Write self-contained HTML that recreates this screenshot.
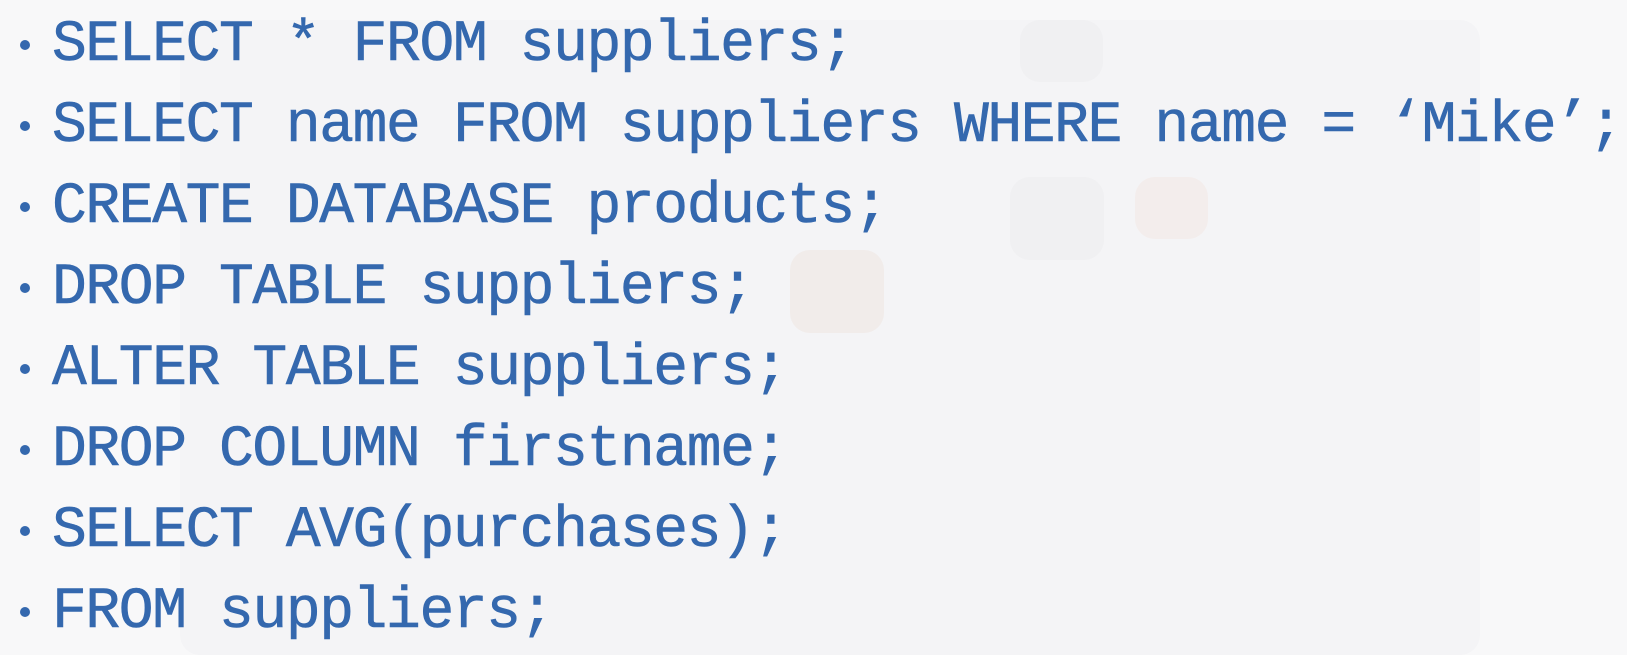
<!DOCTYPE html>
<html><head><meta charset="utf-8"><style>
html,body{margin:0;padding:0;}
body{width:1627px;height:655px;background:#f8f8f9;position:relative;overflow:hidden;}
.l{position:absolute;left:52px;font-family:"Liberation Mono",monospace;font-size:58px;letter-spacing:-1.4px;color:#3468ae;line-height:1;white-space:pre;-webkit-text-stroke:0.6px #3468ae;}
.b{position:absolute;left:20px;width:10px;height:10px;border-radius:50%;background:#3468ae;}
.w{position:absolute;background:#f0f0f2;border-radius:20px;}
</style></head><body>
<div class="w" style="left:180px;top:20px;width:1300px;height:635px;background:#f4f4f6;"></div>
<div class="w" style="left:790px;top:250px;width:94px;height:83px;background:#f1ecea;"></div>
<div class="w" style="left:1010px;top:177px;width:94px;height:83px;"></div>
<div class="w" style="left:1135px;top:177px;width:73px;height:62px;background:#f3edec;"></div>
<div class="w" style="left:1020px;top:20px;width:83px;height:62px;"></div>
<div class="b" style="top:40px"></div><div class="l" style="top:17px">SELECT * FROM suppliers;</div>
<div class="b" style="top:121px"></div><div class="l" style="top:98px">SELECT name FROM suppliers WHERE name = ‘Mike’;</div>
<div class="b" style="top:202px"></div><div class="l" style="top:179px">CREATE DATABASE products;</div>
<div class="b" style="top:283px"></div><div class="l" style="top:260px">DROP TABLE suppliers;</div>
<div class="b" style="top:364px"></div><div class="l" style="top:341px">ALTER TABLE suppliers;</div>
<div class="b" style="top:445px"></div><div class="l" style="top:422px">DROP COLUMN firstname;</div>
<div class="b" style="top:526px"></div><div class="l" style="top:503px">SELECT AVG(purchases);</div>
<div class="b" style="top:607px"></div><div class="l" style="top:584px">FROM suppliers;</div>
</body></html>
